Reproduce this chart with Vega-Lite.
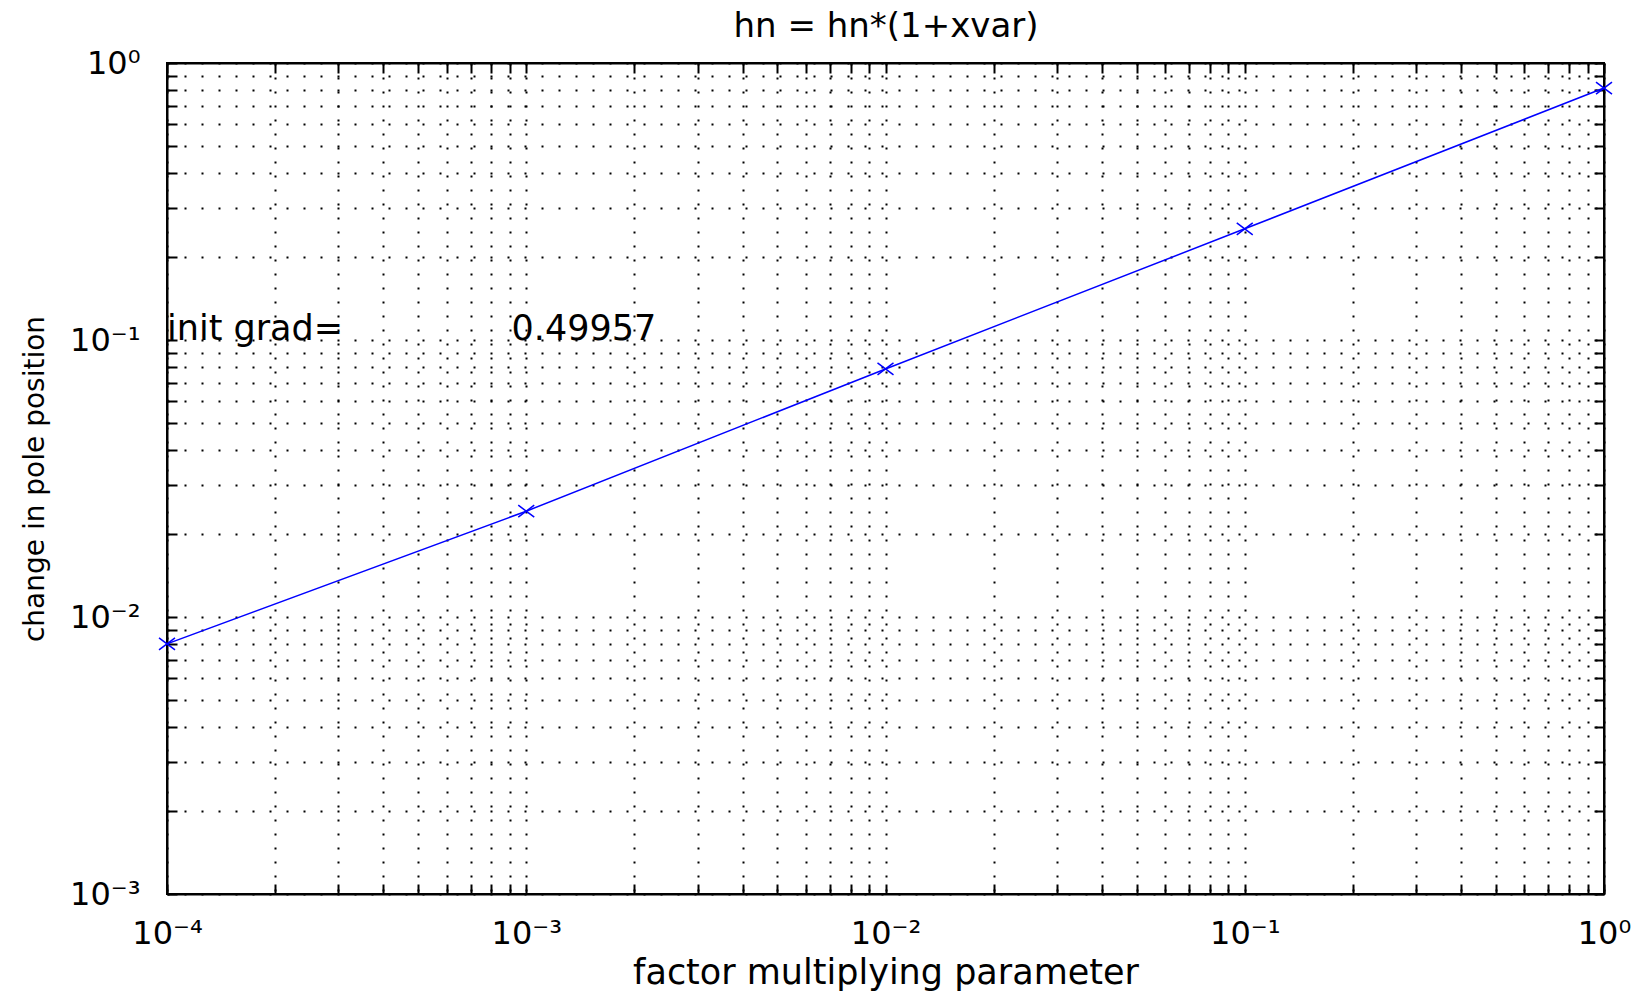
{
  "$schema": "https://vega.github.io/schema/vega-lite/v6.json",
  "width": 1437,
  "height": 831,
  "autosize": {"type": "none"},
  "padding": {"left": 167, "top": 63, "right": 39, "bottom": 100},
  "background": "white",
  "config": {
    "view": {"stroke": "black", "strokeWidth": 2},
    "font": "DejaVu Sans",
    "axis": {
      "labelFont": "DejaVu Sans",
      "titleFont": "DejaVu Sans",
      "labelColor": "black",
      "titleColor": "black",
      "titleFontWeight": "normal",
      "domainColor": "black",
      "domainWidth": 2,
      "tickColor": "black",
      "tickWidth": 2,
      "gridColor": "black",
      "gridOpacity": 1,
      "gridWidth": 2
    }
  },
  "data": {
    "values": [
      {"x": 0.0001, "y": 0.0080},
      {"x": 0.001, "y": 0.0241},
      {"x": 0.01, "y": 0.0786},
      {"x": 0.1, "y": 0.252},
      {"x": 1, "y": 0.812}
    ]
  },
  "layer": [
    {
      "mark": {"type": "line", "color": "#0000ff", "strokeWidth": 1.5},
      "encoding": {
        "x": {
          "field": "x", "type": "quantitative",
          "scale": {"type": "log", "domain": [0.0001, 1], "nice": false},
          "axis": {
            "orient": "bottom",
            "title": "factor multiplying parameter",
            "titleFontSize": 35,
            "titlePadding": 6,
            "labelFontSize": 32,
            "labelPadding": 34,
            "labelOverlap": false,
            "labelFlush": false,
            "tickSize": -10,
            "grid": true,
            "gridDash": [2, 12],
            "values": [0.0001,0.0002,0.0003,0.0004,0.0005,0.0006,0.0007,0.0008,0.0009,0.001,0.002,0.003,0.004,0.005,0.006,0.007,0.008,0.009,0.01,0.02,0.03,0.04,0.05,0.06,0.07,0.08,0.09,0.1,0.2,0.3,0.4,0.5,0.6,0.7,0.8,0.9,1],
            "labelExpr": "abs(log(datum.value)/LN10 - round(log(datum.value)/LN10)) > 0.001 ? '' : (round(log(datum.value)/LN10) == 0 ? '10⁰' : round(log(datum.value)/LN10) == -1 ? '10⁻¹' : round(log(datum.value)/LN10) == -2 ? '10⁻²' : round(log(datum.value)/LN10) == -3 ? '10⁻³' : '10⁻⁴')"
          }
        },
        "y": {
          "field": "y", "type": "quantitative",
          "scale": {"type": "log", "domain": [0.001, 1], "nice": false},
          "axis": {
            "orient": "left",
            "title": "change in pole position",
            "titleFontSize": 28,
            "titlePadding": 20,
            "labelFontSize": 32,
            "labelPadding": 37,
            "labelOverlap": false,
            "labelFlush": false,
            "tickSize": -10,
            "grid": true,
            "gridDash": [2, 15],
            "values": [0.001,0.002,0.003,0.004,0.005,0.006,0.007,0.008,0.009,0.01,0.02,0.03,0.04,0.05,0.06,0.07,0.08,0.09,0.1,0.2,0.3,0.4,0.5,0.6,0.7,0.8,0.9,1],
            "labelExpr": "abs(log(datum.value)/LN10 - round(log(datum.value)/LN10)) > 0.001 ? '' : (round(log(datum.value)/LN10) == 0 ? '10⁰' : round(log(datum.value)/LN10) == -1 ? '10⁻¹' : round(log(datum.value)/LN10) == -2 ? '10⁻²' : round(log(datum.value)/LN10) == -3 ? '10⁻³' : '10⁻⁴')"
          }
        }
      }
    },
    {
      "mark": {
        "type": "point",
        "shape": "M-1,-0.75L1,0.75M-1,0.75L1,-0.75",
        "filled": false,
        "color": "#0000ff",
        "size": 256,
        "strokeWidth": 1.5,
        "opacity": 1
      },
      "encoding": {
        "x": {
          "field": "x", "type": "quantitative",
          "scale": {"type": "log", "domain": [0.0001, 1], "nice": false},
          "axis": {
            "orient": "top",
            "title": "hn = hn*(1+xvar)",
            "titleFontSize": 34,
            "titleBaseline": "alphabetic",
            "titlePadding": 27,
            "labels": false, "grid": false,
            "tickSize": -10, "domain": true, "minExtent": 0, "maxExtent": 0,
            "values": [0.0001,0.0002,0.0003,0.0004,0.0005,0.0006,0.0007,0.0008,0.0009,0.001,0.002,0.003,0.004,0.005,0.006,0.007,0.008,0.009,0.01,0.02,0.03,0.04,0.05,0.06,0.07,0.08,0.09,0.1,0.2,0.3,0.4,0.5,0.6,0.7,0.8,0.9,1]
          }
        },
        "y": {
          "field": "y", "type": "quantitative",
          "scale": {"type": "log", "domain": [0.001, 1], "nice": false},
          "axis": {
            "orient": "right", "title": null, "labels": false, "grid": false,
            "tickSize": -10, "domain": true, "minExtent": 0, "maxExtent": 0,
            "values": [0.001,0.002,0.003,0.004,0.005,0.006,0.007,0.008,0.009,0.01,0.02,0.03,0.04,0.05,0.06,0.07,0.08,0.09,0.1,0.2,0.3,0.4,0.5,0.6,0.7,0.8,0.9,1]
          }
        }
      }
    },
    {
      "data": {
        "values": [
          {"x": 0.0001, "y": 0.1, "label": "init grad="},
          {"x": 0.00091, "y": 0.1, "label": "0.49957"}
        ]
      },
      "mark": {
        "type": "text",
        "align": "left",
        "baseline": "alphabetic",
        "font": "DejaVu Sans",
        "fontSize": 35,
        "color": "black"
      },
      "encoding": {
        "x": {"field": "x", "type": "quantitative", "scale": {"type": "log", "domain": [0.0001, 1], "nice": false}, "axis": null},
        "y": {"field": "y", "type": "quantitative", "scale": {"type": "log", "domain": [0.001, 1], "nice": false}, "axis": null},
        "text": {"field": "label"}
      }
    }
  ],
  "resolve": {"axis": {"x": "independent", "y": "independent"}}
}
